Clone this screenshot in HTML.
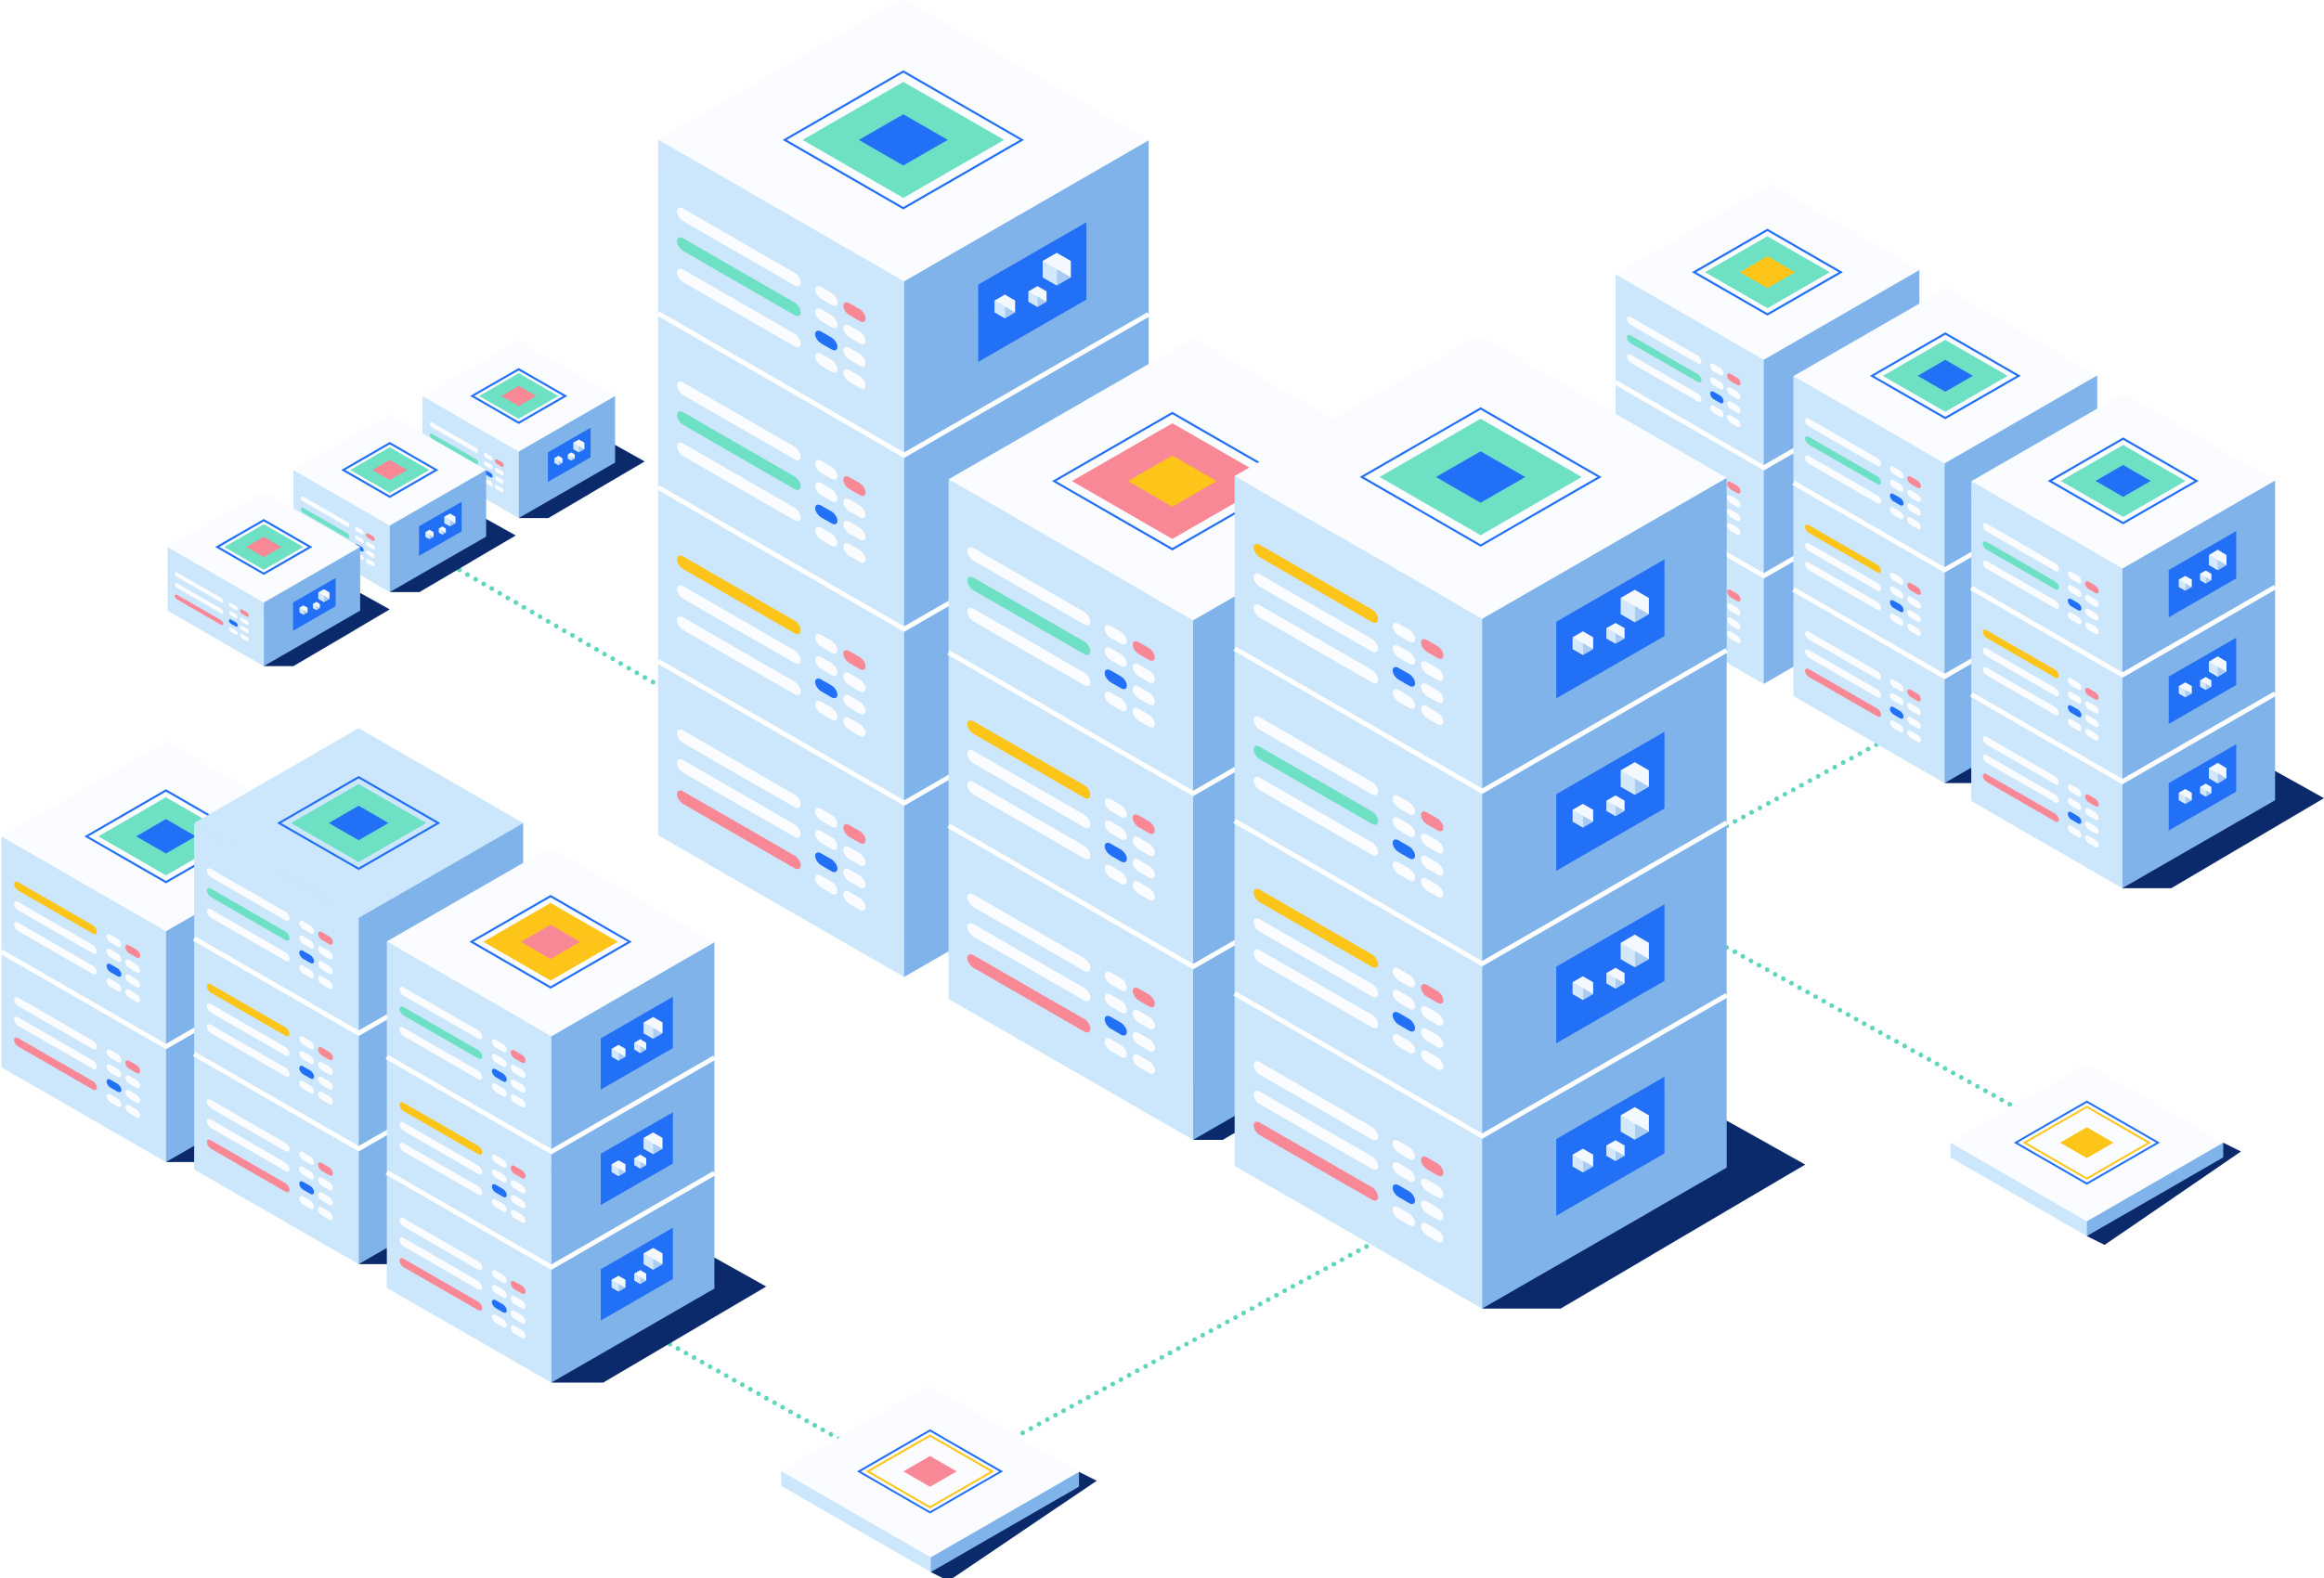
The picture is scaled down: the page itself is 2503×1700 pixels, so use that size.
<!DOCTYPE html>
<html><head><meta charset="utf-8">
<style>html,body{margin:0;padding:0;background:#fff;overflow:hidden}svg{display:block}</style>
</head><body>
<svg id="s" xmlns="http://www.w3.org/2000/svg" width="2503" height="1700" viewBox="0 0 1568 1066" preserveAspectRatio="none"></svg>
<script>
const S=0.577;
const C={top:'#fbfcff',left:'#cce6fb',right:'#80b3ea',panel:'#2270f5',shadow:'#0b2a6b',
 green:'#6ee0c4',pink:'#f98896',yellow:'#fdc51a',blue:'#2270f5',white:'#fbfcff',teal:'#5fd6bd'};
let out='';
const P=a=>a.map(p=>p[0].toFixed(1)+','+p[1].toFixed(1)).join(' ');
function poly(pts,fill,extra){out+=`<polygon points="${P(pts)}" fill="${fill}" ${extra||''}/>`;}
function dia(cx,cy,w,fill,stroke,sw){out+=`<polygon points="${P([[cx-w,cy],[cx,cy-w*S],[cx+w,cy],[cx,cy+w*S]])}" fill="${fill}" ${stroke?`stroke="${stroke}" stroke-width="${sw}"`:''}/>`;}
function dots(x1,y1,x2,y2){const d=Math.hypot(x2-x1,y2-y1),n=Math.floor(d/6.2);for(let i=0;i<=n;i++){const t=i/n;out+=`<circle cx="${(x1+(x2-x1)*t).toFixed(1)}" cy="${(y1+(y2-y1)*t).toFixed(1)}" r="1.6" fill="${C.teal}"/>`;}}
function cube(x,y,r){
 const h=[];for(let i=0;i<6;i++){const a=Math.PI/6+i*Math.PI/3;h.push([x+r*Math.cos(a),y+r*Math.sin(a)]);}
 poly(h,'#f4f9ff');
 poly([[x,y],[h[0][0],h[0][1]],[h[1][0],h[1][1]],[x,y+r]],'#a9ccf3');
 poly([[x,y],[x,y+r],[h[2][0],h[2][1]],[h[3][0],h[3][1]]],'#d3e8fc');
}
function box(o){
 const {fx,fy,a,b,uH,n}=o;const k=a/166, kv=uH/117;
 const L=[fx-a,fy-a*S],R=[fx+b,fy-b*S],B=[fx-a+b,fy-(a+b)*S];const H=uH*n;
 const np=o.panels===undefined?n:o.panels;
 if(o.shadow){const d=o.shadow;poly([[R[0],R[1]+H-0.6*d],[R[0]+d,R[1]+H-0.04*d],[fx+d,fy+H],[fx,fy+H]],C.shadow);}
 poly([L,[fx,fy],[fx,fy+H],[L[0],L[1]+H]],C.left);
 poly([[fx,fy],R,[R[0],R[1]+H],[fx,fy+H]],C.right);
 poly([L,B,R,[fx,fy]],o.topC||C.top);
 for(let i=0;i<n;i++){
  const oy=i*uH;
  out+=`<g transform="matrix(1,${S},0,1,${L[0]},${L[1]+oy}) scale(${k},${kv})" stroke-linecap="round" fill="none">`;
  const col=o.bars[i];const pos=col==='yellow'?0:col==='pink'?2:1;
  const vs=[41,61,82];
  for(let j=0;j<3;j++){const c=j===pos?C[col]:C.white;out+=`<line x1="17" y1="${vs[j]}" x2="92" y2="${vs[j]}" stroke="${c}" stroke-width="8.5"/>`;}
  const rows=[40,55,70,85];
  for(let r=0;r<4;r++){
   out+=`<line x1="110" y1="${rows[r]}" x2="117" y2="${rows[r]}" stroke="${r===2?C.blue:C.white}" stroke-width="8"/>`;
   out+=`<line x1="129" y1="${rows[r]}" x2="136" y2="${rows[r]}" stroke="${r===0?C.pink:C.white}" stroke-width="8"/>`;
  }
  out+='</g>';
  if(i<np){
   out+=`<g transform="matrix(1,${-S},0,1,${fx},${fy+oy}) scale(${b/165},${kv})"><polygon points="50,31 123,31 123,83 50,83" fill="${C.panel}"/></g>`;
   const kk=b/165;
   const pt=(u,v)=>[fx+u*kk, fy+oy-u*kk*S+v*kv];
   let p=pt(103,51);cube(p[0],p[1],11*kk);
   p=pt(68,56);cube(p[0],p[1],8*kk);
   p=pt(90,62);cube(p[0],p[1],7*kk);
  }
  if(i>0){out+=`<polyline points="${P([[L[0],L[1]+oy],[fx,fy+oy],[R[0],R[1]+oy]])}" fill="none" stroke="#fff" stroke-width="3.2"/>`;}
 }
 const cx=o.dcx!==undefined?o.dcx:fx+(b-a)/2, cy=o.dcy!==undefined?o.dcy:fy-(a+b)/2*S;
 const kd=(a+b)/331;
 dia(cx,cy,80*kd,'none',C.blue,1.4);
 dia(cx,cy,68*kd,C[o.deco[0]]);
 dia(cx,cy,30*kd,C[o.deco[1]]);
}
function tile(o){
 const {fx,fy,a,b,t,inner}=o;
 const L=[fx-a,fy-a*S],R=[fx+b,fy-b*S],B=[fx-a+b,fy-(a+b)*S];
 poly([[R[0],R[1]],[R[0]+12,R[1]+6],[fx+12,fy+t+6],[fx,fy+t]],C.shadow);
 poly([L,[fx,fy],[fx,fy+t],[L[0],L[1]+t]],C.left);
 poly([[fx,fy],R,[R[0],R[1]+t],[fx,fy+t]],C.right);
 poly([L,B,R,[fx,fy]],C.top);
 const cx=fx+(b-a)/2, cy=fy-(a+b)/2*S;
 dia(cx,cy,48,'none',C.blue,1.3);
 dia(cx,cy,42,'none',C.yellow,1.3);
 dia(cx,cy,18,C[inner]);
}
dots(310,385,446,464);
dots(1165,558,1266,503);
dots(1165,640,1356,746);
dots(690,968,922,842);
dots(452,908,566,972);
box({fx:350,fy:305,a:65,b:65,uH:45,n:1,bars:['green'],deco:['green','pink'],shadow:20});
box({fx:263,fy:355,a:65,b:65,uH:45,n:1,bars:['green'],deco:['green','pink'],shadow:20});
box({fx:178,fy:407,a:65,b:65,uH:43,n:1,bars:['pink'],deco:['green','pink'],shadow:20});
box({fx:610,fy:190,a:166,b:165,uH:117.5,n:4,panels:1,bars:['green','green','yellow','pink'],deco:['green','blue']});
box({fx:1190,fy:243,a:100,b:105,uH:73,n:3,panels:0,bars:['green','green','pink'],deco:['green','yellow']});
box({fx:1312,fy:313,a:102,b:103,uH:72,n:3,panels:0,bars:['green','yellow','pink'],deco:['green','blue'],shadow:20});
box({fx:1432,fy:384,a:102,b:103,uH:72,n:3,bars:['green','yellow','pink'],deco:['green','blue'],shadow:33});
box({fx:805,fy:419,a:165,b:165,uH:117,n:3,panels:0,bars:['green','yellow','pink'],deco:['pink','yellow'],dcx:791,dcy:325,shadow:20});
box({fx:1000,fy:418,a:167,b:165,uH:116.5,n:4,bars:['yellow','green','yellow','pink'],deco:['green','blue'],shadow:53});
box({fx:112,fy:629,a:111,b:111,uH:78,n:2,panels:0,bars:['yellow','pink'],deco:['green','blue'],shadow:20});
box({fx:242,fy:620,a:111,b:111,uH:78,n:3,panels:0,bars:['green','yellow','pink'],deco:['green','blue'],topC:'#cce6fb',shadow:20});
box({fx:372,fy:700,a:111,b:110,uH:78,n:3,bars:['green','yellow','pink'],deco:['yellow','pink'],shadow:35});
tile({fx:628,fy:1052,a:101,b:100,t:10,inner:'pink'});
tile({fx:1408,fy:825,a:92,b:92,t:10,inner:'yellow'});
document.getElementById('s').innerHTML=out;
</script>
</body></html>
